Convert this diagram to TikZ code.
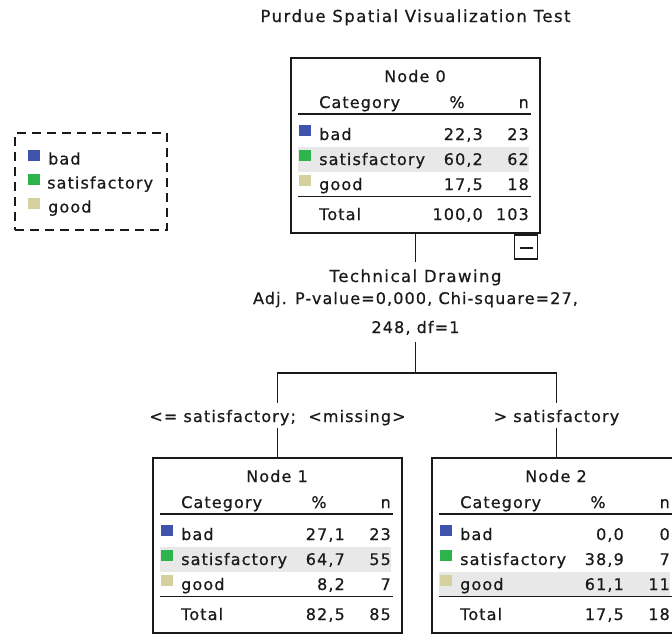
\documentclass[tikz,border=0pt]{standalone}
\usepackage{fontspec}
\setmainfont{DejaVu Sans}
\newfontfamily\cellfont[LetterSpace=7, FakeBold=0.6]{DejaVu Sans}
\newfontfamily\widefont[LetterSpace=9, FakeBold=0.6]{DejaVu Sans}

\definecolor{catbad}{HTML}{3F53AC}
\definecolor{catsat}{HTML}{2DB54B}
\definecolor{catgood}{HTML}{D5D19E}
\definecolor{bandgray}{HTML}{E8E8E8}
\definecolor{ink}{HTML}{1A1A1A}

\tikzset{
  txt/.style={font=\cellfont\fontsize{16}{19}\selectfont, text=ink, inner sep=0pt},
  bigtxt/.style={font=\widefont\fontsize{16.5}{19}\selectfont, text=ink, inner sep=0pt},
  treebox/.style={draw=ink, line width=1.9pt, minimum width=249pt, minimum height=175pt, inner sep=0pt},
  togglebox/.style={draw=ink, line width=1.7pt, minimum width=23pt, minimum height=24pt, inner sep=0pt},
  tabrule/.style={draw=ink, line width=1.9pt},
  swatch/.style={fill=#1, minimum width=12pt, minimum height=11pt, inner sep=0pt, anchor=north west},
  band/.style={fill=bandgray},
  link/.style={draw=ink, line width=1.8pt},
  legendbox/.style={draw=ink, line width=1.8pt, dash pattern=on 9pt off 6pt, minimum width=152pt, minimum height=97pt, inner sep=0pt},
}

% one category row of a tree node: box, key, baseline, colour, label, percent, count
\newcommand\catrow[7]{%
  \node[swatch=#4] (#1-#2-key) at (7.5,{#3-15}) {};
  \node[txt, anchor=base west] (#1-#2-lab) at (28,#3) {#5};
  \node[txt, anchor=base east] (#1-#2-pct) at (192,#3) {#6};
  \node[txt, anchor=base east] (#1-#2-n) at (238,#3) {#7};}

% grey band behind the modal category (argument: row baseline)
\newcommand\hlrow[1]{\fill[band] (7,{#1-18}) rectangle (238,{#1+7});}

% a tree node: name, left, top, title, rows, total percent, total count
\newcommand\treenode[7]{%
  \begin{scope}[shift={(#2,#3)}]
    \node[treebox] (#1) at (124.5,87.5) {};
    \node[txt, anchor=base] (#1-title) at (124,24) {#4};
    \node[txt, anchor=base west] (#1-cat) at (28,50) {Category};
    \node[txt, anchor=base] (#1-pcthead) at (166,50) {\%};
    \node[txt, anchor=base east] (#1-nhead) at (238,50) {n};
    \draw[tabrule] (7,56) -- (240,56);
    #5
    \draw[tabrule] (7,138.5) -- (240,138.5);
    \node[txt, anchor=base west] (#1-total) at (28,162) {Total};
    \node[txt, anchor=base east] (#1-total-pct) at (192,162) {#6};
    \node[txt, anchor=base east] (#1-total-n) at (238,162) {#7};
  \end{scope}}

\begin{document}
\begin{tikzpicture}[x=1pt, y=-1pt]
  \fill[white] (0,0) rectangle (672,637);
  \useasboundingbox (0,0) rectangle (672,637);
  \clip (0,0) rectangle (672,637);

  % title
  \node[bigtxt, anchor=base] (title) at (415.5,22) {Purdue Spatial Visualization Test};

  % legend
  \node[legendbox] (legend) at (91,181.5) {};
  \node[swatch=catbad] (legend-bad-key) at (28,149.5) {};
  \node[txt, anchor=base west] (legend-bad) at (48,164.5) {bad};
  \node[swatch=catsat] (legend-sat-key) at (28,173.5) {};
  \node[txt, anchor=base west] (legend-sat) at (47,188.5) {satisfactory};
  \node[swatch=catgood] (legend-good-key) at (28,197.5) {};
  \node[txt, anchor=base west] (legend-good) at (48,212.5) {good};

  % root node
  \treenode{n0}{291}{58}{Node 0}{%
    \hlrow{107}
    \catrow{n0}{bad}{82}{catbad}{bad}{22,3}{23}
    \catrow{n0}{sat}{107}{catsat}{satisfactory}{60,2}{62}
    \catrow{n0}{good}{132}{catgood}{good}{17,5}{18}
  }{100,0}{103}
  \node[togglebox, anchor=north east] (n0-toggle) at ([xshift=-2.5pt]n0.south east) {};
  \draw[link] ([xshift=-6.5pt,yshift=-1.5pt]n0-toggle.center) -- ([xshift=6.5pt,yshift=-1.5pt]n0-toggle.center);

  % split description
  \node[bigtxt, anchor=base, text height=12pt, text depth=4pt, inner ysep=8pt] (split-var) at (415.5,282) {Technical Drawing};
  \node[txt, anchor=base] (split-stat) at (415.5,304) {Adj. P-value=0,000, Chi-square=27,};
  \node[txt, anchor=base, text height=11pt, text depth=3pt, inner ysep=6pt] (split-stat2) at (415.5,333) {248, df=1};
  \coordinate (fork) at (415.5,373);

  % branch labels
  \node[txt, anchor=base, text height=16pt, text depth=3pt, inner ysep=3pt] (br-left) at (277.5,422) {<= satisfactory;\ \ <missing>};
  \node[txt, anchor=base, text height=16pt, text depth=3pt, inner ysep=3pt] (br-right) at (556.5,422) {> satisfactory};

  % child nodes
  \treenode{n1}{153}{458}{Node 1}{%
    \hlrow{107}
    \catrow{n1}{bad}{82}{catbad}{bad}{27,1}{23}
    \catrow{n1}{sat}{107}{catsat}{satisfactory}{64,7}{55}
    \catrow{n1}{good}{132}{catgood}{good}{8,2}{7}
  }{82,5}{85}
  \treenode{n2}{432}{458}{Node 2}{%
    \hlrow{132}
    \catrow{n2}{bad}{82}{catbad}{bad}{0,0}{0}
    \catrow{n2}{sat}{107}{catsat}{satisfactory}{38,9}{7}
    \catrow{n2}{good}{132}{catgood}{good}{61,1}{11}
  }{17,5}{18}

  % connectors
  \draw[link] (n0.south) -- (split-var.north);
  \draw[link] (split-stat2.south) -- (fork);
  \draw[link] (fork) -| (br-left.north);
  \draw[link] (fork) -| (br-right.north);
  \draw[link] (br-left.south) -- (n1.north);
  \draw[link] (br-right.south) -- (n2.north);
\end{tikzpicture}
\end{document}
